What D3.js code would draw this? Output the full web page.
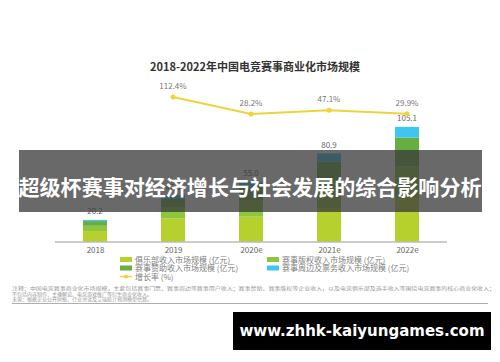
<!DOCTYPE html>
<html>
<head>
<meta charset="utf-8">
<script src="https://cdn.jsdelivr.net/npm/d3@7"></script>
<style>
  body { margin: 0; background: #fff; }
  svg { display: block; font-family: "Noto Sans CJK SC", "Noto Sans", sans-serif; }
</style>
</head>
<body>
<svg id="chart" width="500" height="362"></svg>
<script>
// data (亿元)
var years = ["2018", "2019", "2020e", "2021e", "2022e"];
var clubIncome    = [10.0, 21.7, 23.1, 31.0, 40.3];
var rightsIncome  = [4.8, 10.3, 15.2, 22.5, 29.0];
var sponsorIncome = [4.3, 7.3, 12.1, 19.8, 26.0];
var ticketIncome  = [1.1, 3.6, 4.6, 7.6, 9.8];
var totals = [20.2, 42.9, 55.0, 80.9, 105.1];
var growth = [null, 112.4, 28.2, 47.1, 29.9];

var seriesNames = ["俱乐部收入市场规模 (亿元)", "赛事版权收入市场规模 (亿元)", "赛事赞助收入市场规模 (亿元)", "赛事周边及票务收入市场规模 (亿元)"];
var seriesColors = ["#b6d02e", "#8dc63f", "#66ad42", "#3ec6ee"];
var lineColor = "#efd33b";

var notes = [
  "注释：中国电竞赛事商业化市场规模，主要包括赛事门票、赛事周边等赛事用户收入；赛事赞助、赛事版权等企业收入，以及电竞俱乐部及选手收入等围绕电竞赛事的核心商业化收入；",
  "不包括内容制作、主播解说、电竞游戏推广等衍生商业化收入。",
  "来源：根据企业公开财报、行业访谈及艾瑞统计预测模型估算。"
];

var svg = d3.select("#chart");

// build rows for stacking
var rows = years.map(function(y, i) {
  return {year: y, s0: clubIncome[i], s1: rightsIncome[i], s2: sponsorIncome[i], s3: ticketIncome[i], total: totals[i], growth: growth[i]};
});
var keys = ["s0", "s1", "s2", "s3"];
var stacked = d3.stack().keys(keys)(rows);

var xScale = d3.scalePoint().domain(years).range([56, 446]).padding(0.5);
var yScale = d3.scaleLinear().domain([0, 110]).range([242, 121.5]);
var yLine = d3.scaleLinear().domain([0, 120]).range([119.7, 95.5]);
var barW = 24;

// title
svg.append("text")
  .attr("x", 255).attr("y", 71)
  .attr("text-anchor", "middle")
  .style("font-size", "11px").style("font-weight", "700").style("fill", "#333")
  .text("2018-2022年中国电竞赛事商业化市场规模");

// stacked bars
svg.append("g").selectAll("g")
  .data(stacked)
  .enter().append("g")
  .attr("fill", function(d, i) { return seriesColors[i]; })
  .selectAll("rect")
  .data(function(d) { return d; })
  .enter().append("rect")
  .attr("x", function(d) { return xScale(d.data.year) - barW / 2; })
  .attr("width", barW)
  .attr("y", function(d) { return yScale(d[1]); })
  .attr("height", function(d) { return yScale(d[0]) - yScale(d[1]); });

// totals
svg.append("g").selectAll("text")
  .data(rows)
  .enter().append("text")
  .attr("x", function(d) { return xScale(d.year); })
  .attr("y", function(d) { return yScale(d.total) - 5.5; })
  .attr("text-anchor", "middle")
  .style("font-size", "8px").style("fill", "#666")
  .text(function(d) { return d.total.toFixed(1); });

// x axis
var xAxis = d3.axisBottom(xScale).tickSize(0).tickPadding(5);
var axisG = svg.append("g")
  .attr("class", "x axis")
  .attr("transform", "translate(0,242)")
  .call(xAxis);
axisG.select(".domain").attr("stroke", "#bbb").attr("stroke-width", 1.5).attr("d", "M55,0H447");
axisG.selectAll("text").style("font-size", "8px").style("fill", "#666")
  .style("font-family", "'Noto Sans CJK SC', sans-serif");

// growth line
var lineData = rows.filter(function(d) { return d.growth != null; });
var line = d3.line()
  .x(function(d) { return xScale(d.year); })
  .y(function(d) { return yLine(d.growth); });
svg.append("path")
  .datum(lineData)
  .attr("d", line)
  .attr("fill", "none").attr("stroke", lineColor).attr("stroke-width", 2);
svg.append("g").selectAll("circle")
  .data(lineData)
  .enter().append("circle")
  .attr("cx", function(d) { return xScale(d.year); })
  .attr("cy", function(d) { return yLine(d.growth); })
  .attr("r", 2.5).attr("fill", lineColor);
svg.append("g").selectAll("text")
  .data(lineData)
  .enter().append("text")
  .attr("x", function(d) { return xScale(d.year); })
  .attr("y", function(d) { return yLine(d.growth) - 8; })
  .attr("text-anchor", "middle")
  .style("font-size", "8px").style("fill", "#777")
  .text(function(d) { return d.growth.toFixed(1) + "%"; });

// legend
var legendPos = [[120, 259.5], [267, 259.5], [120, 268], [267, 268]];
var legend = svg.append("g");
seriesNames.forEach(function(name, i) {
  legend.append("rect")
    .attr("x", legendPos[i][0]).attr("y", legendPos[i][1] - 2.5)
    .attr("width", 12).attr("height", 5)
    .attr("fill", seriesColors[i]);
  legend.append("text")
    .attr("x", legendPos[i][0] + 15).attr("y", legendPos[i][1] + 3)
    .style("font-size", "8px").style("fill", "#808080")
    .text(name);
});
legend.append("line")
  .attr("x1", 120).attr("x2", 132).attr("y1", 276.5).attr("y2", 276.5)
  .attr("stroke", lineColor).attr("stroke-width", 1.5);
legend.append("circle").attr("cx", 126).attr("cy", 276.5).attr("r", 2).attr("fill", lineColor);
legend.append("text")
  .attr("x", 135).attr("y", 279.5)
  .style("font-size", "8px").style("fill", "#808080")
  .text("增长率 (%)");

// notes
svg.append("g").selectAll("text")
  .data(notes)
  .enter().append("text")
  .attr("x", 12)
  .attr("y", function(d, i) { return 290 + i * 5.6; })
  .attr("textLength", function(d, i) { return i == 0 ? 483 : null; })
  .attr("lengthAdjust", "spacingAndGlyphs")
  .style("font-size", "5px").style("fill", "#999")
  .text(function(d) { return d; });
svg.append("line")
  .attr("x1", 12).attr("x2", 488).attr("y1", 303.5).attr("y2", 303.5)
  .attr("stroke", "#999").attr("stroke-width", 0.8);

// overlay band with headline
svg.append("rect")
  .attr("x", 19).attr("y", 150).attr("width", 463).attr("height", 62)
  .attr("fill", "#3a3a3a").attr("opacity", 0.76);
svg.append("text")
  .attr("x", 250).attr("y", 195)
  .attr("text-anchor", "middle")
  .attr("textLength", 463).attr("lengthAdjust", "spacingAndGlyphs")
  .style("font-size", "21px").style("font-weight", "700").style("fill", "#fff")
  .text("超级杯赛事对经济增长与社会发展的综合影响分析");

// watermark box
svg.append("rect")
  .attr("x", 233).attr("y", 312).attr("width", 258).attr("height", 38)
  .attr("fill", "#000");
svg.append("text")
  .attr("x", 362).attr("y", 336)
  .attr("text-anchor", "middle")
  .style("font-family", "'DejaVu Sans', sans-serif")
  .style("font-size", "15px").style("font-weight", "700").style("fill", "#fff")
  .text("www.zhhk-kaiyungames.com");
</script>
</body>
</html>
